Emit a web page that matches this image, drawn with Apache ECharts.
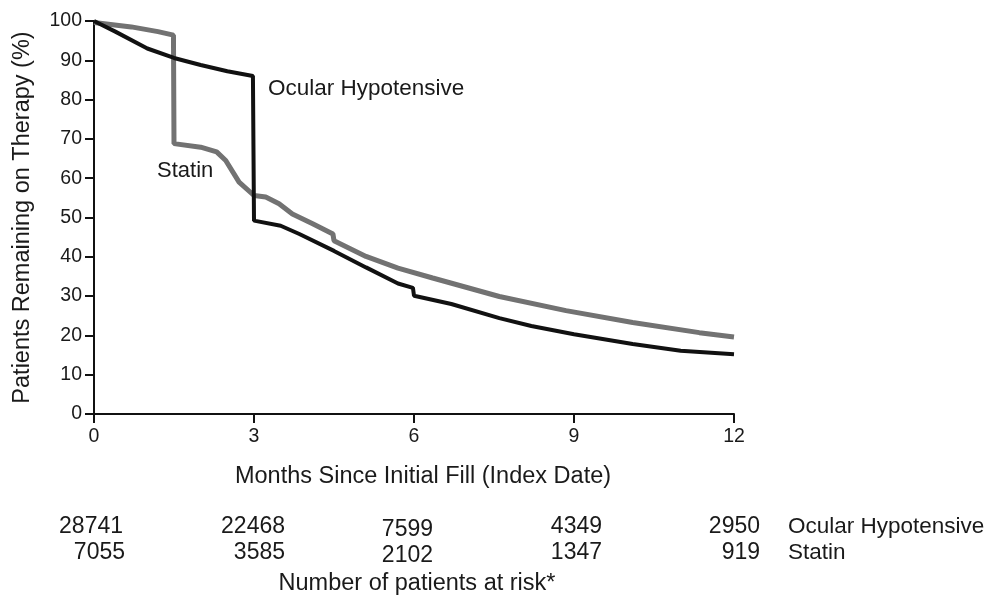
<!DOCTYPE html>
<html>
<head>
<meta charset="utf-8">
<script src="https://cdn.jsdelivr.net/npm/echarts@6/dist/echarts.min.js"></script>
<style>html,body{margin:0;padding:0;background:#fff;}#c{width:992px;height:600px;}</style>
</head>
<body>
<div id="c"></div>
<script>
// Kaplan-Meier style persistence curves: [month, % remaining]
const ocularMonths = [0, 0.4, 1.0, 1.5, 2.0, 2.5, 2.98, 3.0, 3.5, 3.85, 4.5, 5.1, 5.7, 5.98, 6.0, 6.7, 7.6, 8.2, 9.0, 10.1, 11.0, 12];
const ocularValues = [100, 97.3, 93.0, 90.6, 88.8, 87.2, 86.0, 49.2, 47.9, 45.8, 41.5, 37.3, 33.2, 32.1, 30.1, 28.0, 24.4, 22.4, 20.3, 17.8, 16.1, 15.2];
const statinMonths = [0, 0.7, 1.2, 1.49, 1.5, 2.0, 2.3, 2.47, 2.72, 3.0, 3.22, 3.47, 3.72, 4.1, 4.48, 4.5, 5.1, 5.7, 6.35, 7.6, 8.85, 10.1, 11.35, 12];
const statinValues = [99.6, 98.5, 97.3, 96.4, 68.8, 67.9, 66.7, 64.5, 59.0, 55.6, 55.2, 53.5, 50.9, 48.4, 45.8, 44.1, 40.1, 37.1, 34.6, 29.9, 26.3, 23.3, 20.7, 19.6];
const seriesNames = ['Ocular Hypotensive', 'Statin'];
const riskOcular = ['28741', '22468', '7599', '4349', '2950'];
const riskStatin = ['7055', '3585', '2102', '1347', '919'];
const xTitle = 'Months Since Initial Fill (Index Date)';
const yTitle = 'Patients Remaining on Therapy (%)';
const riskTitle = 'Number of patients at risk*';

// layout (pixel positions for the at-risk table text)
const riskRight1 = [123, 285, 433, 602, 760];
const riskRight2 = [125, 285, 433, 602, 760];
const riskColDy = [0, 0, 3, 0, 0];
const FONT = '"Liberation Sans", Arial, sans-serif';

const pairs = (xs, ys) => xs.map((x, i) => [x, ys[i]]);

const graphics = [];
function txt(text, x, y, align, size) {
  graphics.push({type: 'text', x: x, y: y, silent: true,
    style: {text: text, fill: '#1a1a1a', font: size + 'px ' + FONT, align: align, verticalAlign: 'middle'}});
}
riskOcular.forEach((t, i) => txt(t, riskRight1[i], 527 + riskColDy[i], 'right', 23));
riskStatin.forEach((t, i) => txt(t, riskRight2[i], 553 + riskColDy[i], 'right', 23));
txt(seriesNames[0], 788, 527, 'left', 22.5);
txt(seriesNames[1], 788, 553, 'left', 22.5);
txt(riskTitle, 417, 584, 'center', 23.5);
txt(seriesNames[0], 268, 89, 'left', 22.5);
txt(seriesNames[1], 157, 171, 'left', 22);

const chart = echarts.init(document.getElementById('c'), null, {renderer: 'canvas'});
chart.setOption({
  animation: false,
  backgroundColor: '#fff',
  grid: {left: 94, top: 21, width: 640, height: 393, containLabel: false},
  xAxis: {
    type: 'value', min: 0, max: 12, interval: 3,
    name: xTitle, nameLocation: 'middle', nameGap: 51,
    nameTextStyle: {fontFamily: FONT, fontSize: 23.5, color: '#1a1a1a', padding: [0, 0, 0, 18]},
    axisLine: {show: true, onZero: false, lineStyle: {color: '#111', width: 2}},
    axisTick: {show: true, length: 9, lineStyle: {color: '#111', width: 2}},
    axisLabel: {fontFamily: FONT, fontSize: 19.5, color: '#1a1a1a', margin: 13},
    splitLine: {show: false}
  },
  yAxis: {
    type: 'value', min: 0, max: 100, interval: 10,
    name: yTitle, nameLocation: 'middle', nameGap: 59,
    nameTextStyle: {fontFamily: FONT, fontSize: 23.5, color: '#1a1a1a'},
    axisLine: {show: true, lineStyle: {color: '#111', width: 2}},
    axisTick: {show: true, length: 9, lineStyle: {color: '#111', width: 2}},
    axisLabel: {fontFamily: FONT, fontSize: 19.5, color: '#1a1a1a', margin: 12},
    splitLine: {show: false}
  },
  series: [
    {name: seriesNames[1], type: 'line', data: pairs(statinMonths, statinValues), showSymbol: false, smooth: false,
      lineStyle: {color: '#727272', width: 5}, z: 2},
    {name: seriesNames[0], type: 'line', data: pairs(ocularMonths, ocularValues), showSymbol: false, smooth: false,
      lineStyle: {color: '#111111', width: 4}, z: 3}
  ],
  graphic: graphics
});
</script>
</body>
</html>
